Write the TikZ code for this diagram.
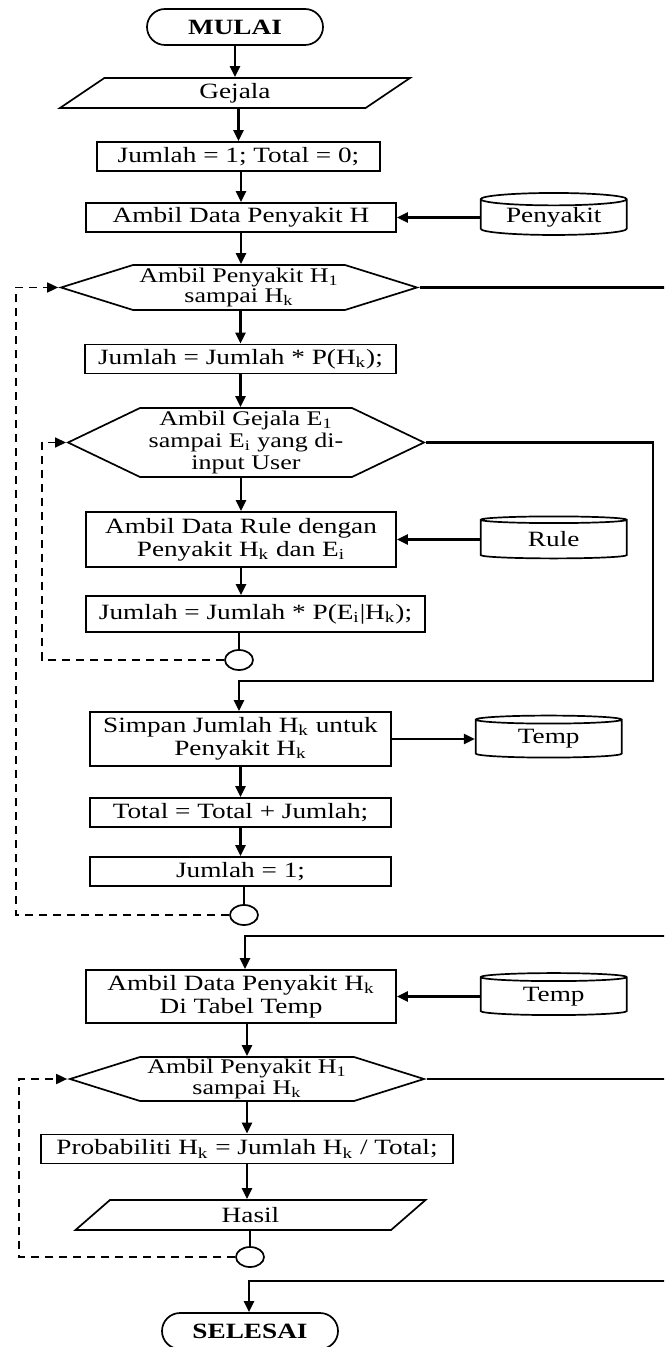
\documentclass[tikz,border=0pt]{standalone}
\usepackage{fontspec}
\setmainfont{Liberation Serif}[FakeStretch=1.25]
\usetikzlibrary{positioning,shapes.geometric,shapes.misc,shapes.symbols,arrows.meta}

\begin{document}
\begin{tikzpicture}[
    x=0.5pt, y=-0.5pt,
    font=\fontsize{10.9}{11.5}\selectfont,
    dasar/.style={draw, line width=0.85pt, align=center, inner sep=0pt},
    terminal/.style={dasar, rounded rectangle, minimum width=88pt, minimum height=18pt, font=\fontsize{10.9}{11.5}\selectfont\bfseries},
    proses/.style={dasar, rectangle, minimum height=14.5pt},
    masukan/.style={dasar, trapezium, trapezium left angle=24, trapezium right angle=156, trapezium stretches body, minimum height=15pt},
    ulang/.style={dasar, signal, signal to=east and west, font=\fontsize{10.4}{10.2}\selectfont},
    basisdata/.style={dasar, cylinder, shape border rotate=90, aspect=0.13, minimum width=73pt, minimum height=21pt},
    sambung/.style={dasar, ellipse, minimum width=14pt, minimum height=10pt},
    panah/.style={-{Triangle[length=5.5pt,width=5pt]}, line width=1.1pt},
    balik/.style={panah, line width=0.85pt, dash pattern=on 4pt off 3pt},
    node distance=41.5pt
]
\useasboundingbox (0,0) rectangle (664,1347);
\clip (0,0) rectangle (664,1347);

% bagian pertama
\node[terminal] (mulai) at (235,27) {MULAI};
\node[masukan, minimum width=175pt] (gejala) at (235,93) {Gejala};
\node[proses, minimum width=141.5pt] (awal) at (238.5,156.5) {Jumlah = 1; Total = 0;};
\node[proses, minimum width=155pt] (ambilH) at (241,217.5) {Ambil Data Penyakit H};
\node[basisdata, right=of ambilH] (dbPenyakit) {Penyakit};

\node[ulang, signal pointer angle=34.7, minimum width=178pt, minimum height=22.5pt] (ulangH) at (239,287.5) {Ambil Penyakit H\textsubscript{1}\\sampai H\textsubscript{k}};
\node[proses, minimum width=155.5pt] (kaliH) at (240.5,359) {Jumlah = Jumlah * P(H\textsubscript{k});};
\node[ulang, signal pointer angle=51.2, minimum width=178pt, minimum height=34.5pt, font=\fontsize{10.4}{11.2}\selectfont] (ulangE) at (246,442.5) {Ambil Gejala E\textsubscript{1}\\sampai E\textsubscript{i} yang di-\\input User};
\node[proses, minimum width=155pt, minimum height=27.5pt] (ambilRule) at (241,539.5) {Ambil Data Rule dengan\\Penyakit H\textsubscript{k} dan E\textsubscript{i}};
\node[basisdata, right=of ambilRule] (dbRule) {Rule};
\node[proses, minimum width=169.5pt, minimum height=18pt] (kaliE) at (255.5,614) {Jumlah = Jumlah * P(E\textsubscript{i}|H\textsubscript{k});};
\node[sambung] (titikE) at (239,660) {};

\node[proses, minimum width=150.5pt, minimum height=27pt] (simpan) at (240.5,739) {Simpan Jumlah H\textsubscript{k} untuk\\Penyakit H\textsubscript{k}};
\node[basisdata, right=of simpan] (dbTemp) {Temp};
\node[proses, minimum width=150.5pt] (tambah) at (240.5,812.5) {Total = Total + Jumlah;};
\node[proses, minimum width=150.5pt] (reset) at (240.5,871.5) {Jumlah = 1;};
\node[sambung] (titikH) at (244,915) {};

% bagian kedua
\node[proses, minimum width=155pt, minimum height=26.5pt] (ambilTemp) at (241,996.5) {Ambil Data Penyakit H\textsubscript{k}\\Di Tabel Temp};
\node[basisdata, right=of ambilTemp] (dbTemp2) {Temp};
\node[ulang, signal pointer angle=34.9, minimum width=177pt, minimum height=22pt] (ulangP) at (247,1079) {Ambil Penyakit H\textsubscript{1}\\sampai H\textsubscript{k}};
\node[proses, minimum width=206pt] (prob) at (247,1149) {Probabiliti H\textsubscript{k} = Jumlah H\textsubscript{k} / Total;};
\node[masukan, minimum width=175pt] (hasil) at (250.5,1215) {Hasil};
\node[sambung] (titikP) at (250,1257) {};
\node[terminal] (selesai) at (250,1331) {SELESAI};

% titik bantu
\coordinate (kiriH) at (16,287.5);
\coordinate (kiriE) at (42,442.5);
\coordinate (kiriP) at (19,1079);
\coordinate (kanan) at (690,0);
\coordinate (kananE) at (653,442.5);
\coordinate (masukE) at (239,681);
\coordinate (masukTemp) at (245,936);
\coordinate (masukSelesai) at (249,1281);

% alur utama
\draw[panah] (mulai.south) -- (mulai.south |- gejala.north);
\draw[panah] (awal.north |- gejala.south) -- (awal.north);
\draw[panah] (ambilH.north |- awal.south) -- (ambilH.north);
\draw[panah] (ambilH.south) -- (ambilH.south |- ulangH.north);
\draw[panah] (kaliH.north |- ulangH.south) -- (kaliH.north);
\draw[panah] (kaliH.south) -- (kaliH.south |- ulangE.north);
\draw[panah] (ambilRule.north |- ulangE.south) -- (ambilRule.north);
\draw[panah] (ambilRule.south) -- (ambilRule.south |- kaliE.north);
\draw[line width=0.85pt] (titikE |- kaliE.south) -- (titikE.north);
\draw[panah] (simpan.south) -- (simpan.south |- tambah.north);
\draw[panah] (tambah.south) -- (tambah.south |- reset.north);
\draw[line width=0.85pt] (titikH |- reset.south) -- (titikH.north);
\draw[panah] (ulangP.north |- ambilTemp.south) -- (ulangP.north);
\draw[panah] (ulangP.south) -- (ulangP.south |- prob.north);
\draw[panah] (prob.south) -- (prob.south |- hasil.north);
\draw[line width=0.85pt] (titikP |- hasil.south) -- (titikP.north);

% basis data
\draw[panah] (dbPenyakit.west) -- (dbPenyakit.west -| ambilH.east);
\draw[panah] (dbRule.west) -- (dbRule.west -| ambilRule.east);
\draw[panah] (simpan.east) -- (simpan.east -| dbTemp.west);
\draw[panah] (dbTemp2.west) -- (dbTemp2.west -| ambilTemp.east);

% keluar dari perulangan
\draw[panah] (ulangH.east) -| (kanan |- masukTemp) -- (masukTemp) -- (masukTemp |- ambilTemp.north);
\draw[panah] (ulangE.east) -- (kananE) |- (masukE) -- (masukE |- simpan.north);
\draw[panah] (ulangP.east) -| (kanan |- masukSelesai) -- (masukSelesai) -- (masukSelesai |- selesai.north);

% kembali ke awal perulangan
\draw[balik] (titikH.west) -| (kiriH) -- (ulangH.west);
\draw[balik] (titikE.west) -| (kiriE) -- (ulangE.west);
\draw[balik] (titikP.west) -| (kiriP) -- (ulangP.west);

\end{tikzpicture}
\end{document}
